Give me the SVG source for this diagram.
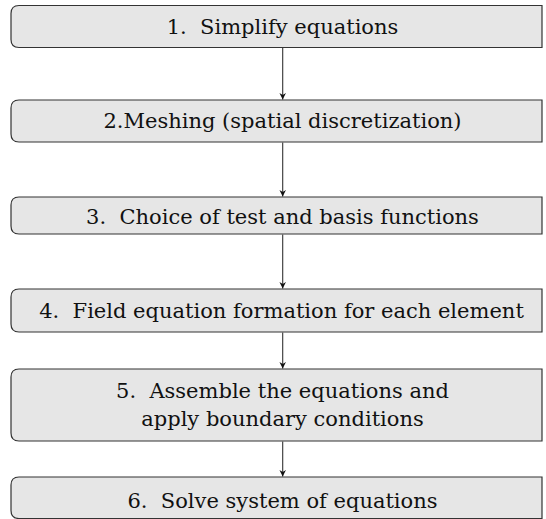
<svg xmlns="http://www.w3.org/2000/svg" width="546" height="519" viewBox="0 0 546 519">
<style>
.box{fill:#e6e6e6;stroke:#333;stroke-width:1.2}
.t{font-family:"DejaVu Serif","Liberation Serif",serif;font-size:21px;fill:#111;text-anchor:middle;white-space:pre}
.c{stroke:#333;stroke-width:1.1;fill:none;marker-end:url(#ah)}
</style>
<defs>
<marker id="ah" viewBox="0 0 10 10" refX="10" refY="5" markerWidth="7" markerHeight="6.5" markerUnits="userSpaceOnUse" orient="auto">
<path d="M0,0 L10,5 L0,10 L3,5 z" fill="#111"/>
</marker>
</defs>
<g id="n1"><path class="box" d="M542,5.5 H19 Q11,5.5 11,13.5 V39.5 Q11,47.5 19,47.5 H542 Z"/><text class="t" x="282.5" y="33.5" xml:space="preserve">1.  Simplify equations</text></g>
<g id="n2"><path class="box" d="M542,100 H19 Q11,100 11,108 V134 Q11,142 19,142 H542 Z"/><text class="t" x="282.5" y="128">2.Meshing (spatial discretization)</text></g>
<g id="n3"><path class="box" d="M542,197 H19 Q11,197 11,205 V226 Q11,234 19,234 H542 Z"/><text class="t" x="282.5" y="223.5" xml:space="preserve">3.  Choice of test and basis functions</text></g>
<g id="n4"><path class="box" d="M542,289 H19 Q11,289 11,297 V324 Q11,332 19,332 H542 Z"/><text class="t" x="281.5" y="317.5" xml:space="preserve">4.  Field equation formation for each element</text></g>
<g id="n5"><path class="box" d="M542,369 H19 Q11,369 11,377 V433 Q11,441 19,441 H542 Z"/><text class="t" x="282.5" y="397.5" xml:space="preserve">5.  Assemble the equations and</text><text class="t" x="282.5" y="425.5">apply boundary conditions</text></g>
<g id="n6"><path class="box" d="M542,477 H19 Q11,477 11,485 V510.5 Q11,518.5 19,518.5 H542 Z"/><text class="t" x="282.5" y="507.5" xml:space="preserve">6.  Solve system of equations</text></g>
<g id="connectors">
<line class="c" x1="282.7" y1="48" x2="282.7" y2="99.5"/>
<line class="c" x1="282.7" y1="142.5" x2="282.7" y2="196.5"/>
<line class="c" x1="282.7" y1="234.5" x2="282.7" y2="288.5"/>
<line class="c" x1="282.7" y1="332.5" x2="282.7" y2="368.5"/>
<line class="c" x1="282.7" y1="441.5" x2="282.7" y2="476.5"/>
</g>
</svg>
